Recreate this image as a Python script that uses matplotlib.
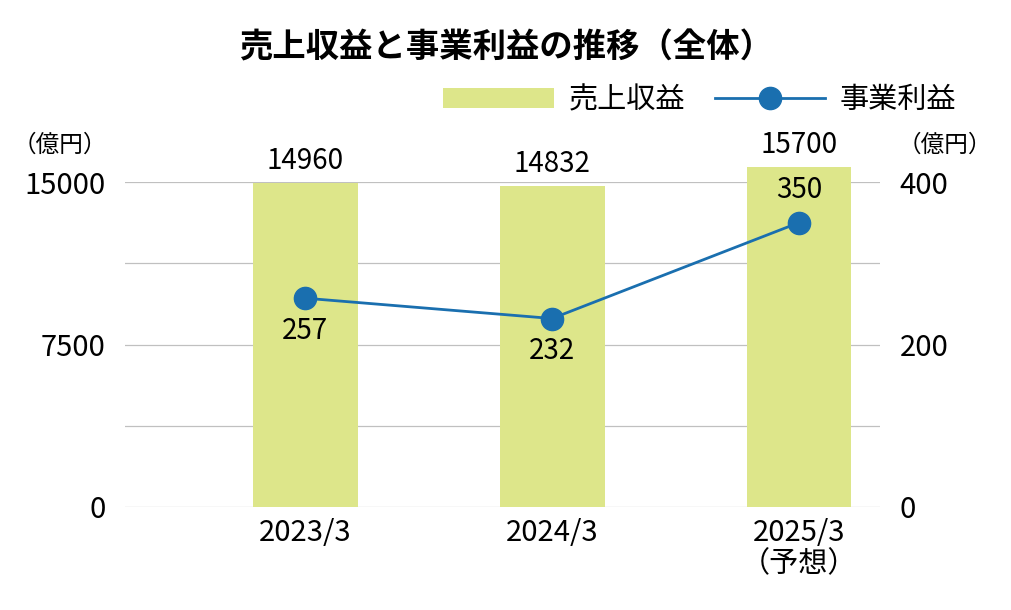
import matplotlib.pyplot as plt

plt.rcParams['font.family'] = 'Noto Sans CJK JP'

categories = ['2023/3', '2024/3', '2025/3\n（予想）']
revenue = [14960, 14832, 15700]
profit = [257, 232, 350]

bar_color = '#dde68a'
line_color = '#1a6faf'

fig = plt.figure(figsize=(10.12, 6.1), dpi=100)
ax = fig.add_axes([125/1012, 1-507/610, 755/1012, 325/610])
x = range(len(categories))
bars = ax.bar(x, revenue, width=0.425, color=bar_color, label='売上収益', zorder=2)
for b in bars:
    b.set_clip_on(False)
ax.set_xlim(-0.729, 2.328)
ax.set_ylim(0, 15000)
ax.set_yticks([0, 7500, 15000])
ax.set_yticks([3750, 11250], minor=True)
ax.grid(axis='y', which='both', color='#c0c0c0', lw=0.9, zorder=0)
ax.tick_params(axis='y', which='both', length=0, labelsize=21, pad=14)
ax.set_xticks(list(x))
ax.set_xticklabels(categories, fontsize=21, linespacing=1.05, va='top')
ax.tick_params(axis='x', length=0, pad=8)
for s in ax.spines.values():
    s.set_visible(False)
for i, v in enumerate(revenue):
    ax.text(i, v + 300, str(v), ha='center', va='bottom', fontsize=20)

ax2 = ax.twinx()
ax2.set_ylim(0, 400)
ax2.set_yticks([0, 200, 400])
ax2.tick_params(axis='y', length=0, labelsize=21, pad=14)
for s in ax2.spines.values():
    s.set_visible(False)
ax2.plot(x, profit, color=line_color, lw=2, marker='o', ms=16, label='事業利益')
offsets = [-22, -22, 22]
for i, v in enumerate(profit):
    ax2.text(i, v + offsets[i], str(v), ha='center',
             va='top' if offsets[i] < 0 else 'bottom', fontsize=20)

fig.text(0.5, 1-48/610, '売上収益と事業利益の推移（全体）', ha='center', va='center',
         fontsize=24, fontweight='bold')
fig.text(60/1012, 1-145/610, '（億円）', ha='center', va='center', fontsize=17)
fig.text(945/1012, 1-145/610, '（億円）', ha='center', va='center', fontsize=17)

h1, l1 = ax.get_legend_handles_labels()
h2, l2 = ax2.get_legend_handles_labels()
fig.legend(h1 + h2, l1 + l2, loc='center', bbox_to_anchor=(700/1012, 1-100/610),
           ncol=2, frameon=False, fontsize=21, handlelength=3.8, columnspacing=1.0,
           handletextpad=0.5)

fig.savefig('out.png', dpi=100)
